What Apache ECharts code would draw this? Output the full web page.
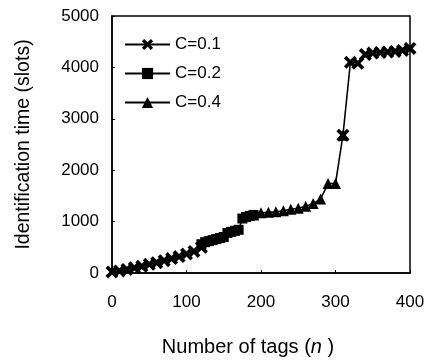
<!DOCTYPE html>
<html>
<head>
<meta charset="utf-8">
<script src="https://cdn.jsdelivr.net/npm/echarts@6/dist/echarts.min.js"></script>
<style>
  html, body { margin: 0; padding: 0; background: #fff; }
  #chart { width: 433px; height: 363px; }
</style>
</head>
<body>
<div id="chart"></div>
<script>
// number of tags (n) / identification time (slots)
const tagsC01a = [0, 10, 20, 30, 40, 50, 60, 70, 80, 90, 100, 110, 120];
const timeC01a = [20, 40, 70, 100, 130, 170, 200, 240, 280, 320, 370, 420, 500];
const tagsC02 = [120, 125, 130, 135, 140, 145, 150, 155, 160, 165, 170, 175, 180, 185, 190];
const timeC02 = [560, 600, 620, 640, 660, 680, 700, 780, 800, 820, 840, 1060, 1090, 1110, 1130];
const tagsC04 = [190, 200, 210, 220, 230, 240, 250, 260, 270, 280, 290, 300, 310];
const timeC04 = [1130, 1170, 1180, 1190, 1210, 1240, 1260, 1300, 1350, 1440, 1740, 1740, 2680];
const tagsC01b = [310, 320, 330, 340, 350, 360, 370, 380, 390, 400];
const timeC01b = [2680, 4100, 4080, 4250, 4280, 4290, 4300, 4310, 4330, 4370];
const xTicks = [0, 100, 200, 300, 400];
const yTicks = [0, 1000, 2000, 3000, 4000, 5000];

const font = 'Liberation Sans';
const crossPath = 'path://M2,0L5,3L8,0L10,2L7,5L10,8L8,10L5,7L2,10L0,8L3,5L0,2Z';

const zip = (xs, ys) => xs.map((x, i) => [x, ys[i]]);

const lineSeries = (name, data, symbol, size) => ({
  name,
  type: 'line',
  data,
  symbol,
  symbolSize: size,
  showAllSymbol: true,
  lineStyle: { color: '#000', width: 1.6 },
  itemStyle: { color: '#000' },
  animation: false
});

const chart = echarts.init(document.getElementById('chart'));
chart.setOption({
  animation: false,
  textStyle: { fontFamily: font },
  grid: { left: 112, right: 23, top: 16, bottom: 90, show: true, borderColor: '#000', borderWidth: 1.5 },
  legend: {
    data: ['C=0.1', 'C=0.2', 'C=0.4'],
    orient: 'vertical',
    left: 119,
    top: 31,
    itemWidth: 45,
    itemHeight: 14,
    itemGap: 12,
    textStyle: { fontSize: 17, color: '#000', fontFamily: font }
  },
  xAxis: {
    type: 'value',
    min: xTicks[0],
    max: xTicks[xTicks.length - 1],
    interval: 100,
    name: 'Number of tags ({i|n} )',
    nameLocation: 'middle',
    nameGap: 64,
    nameTextStyle: {
      fontSize: 20, color: '#000', fontFamily: font, padding: [0, 26, 0, 0],
      rich: { i: { fontSize: 20, fontStyle: 'italic', color: '#000', fontFamily: font } }
    },
    splitLine: { show: false },
    axisLine: { lineStyle: { color: '#000', width: 1.5 } },
    axisTick: { inside: true, length: 3, lineStyle: { color: '#000' } },
    axisLabel: { margin: 21, fontSize: 17, color: '#000', fontFamily: font }
  },
  yAxis: {
    type: 'value',
    min: yTicks[0],
    max: yTicks[yTicks.length - 1],
    interval: 1000,
    name: 'Identification time (slots)',
    nameLocation: 'middle',
    nameGap: 78,
    nameTextStyle: { fontSize: 19.5, color: '#000', fontFamily: font },
    splitLine: { show: false },
    axisLine: { lineStyle: { color: '#000', width: 1.5 } },
    axisTick: { inside: true, length: 3, lineStyle: { color: '#000' } },
    axisLabel: { margin: 13, fontSize: 17, color: '#000', fontFamily: font, formatter: v => String(v) }
  },
  series: [
    lineSeries('C=0.1', zip(tagsC01a, timeC01a), crossPath, 13),
    lineSeries('C=0.2', zip(tagsC02, timeC02), 'rect', 10),
    lineSeries('C=0.4', zip(tagsC04, timeC04), 'triangle', 11),
    lineSeries('C=0.1', zip(tagsC01b, timeC01b), crossPath, 13)
  ]
});
</script>
</body>
</html>
